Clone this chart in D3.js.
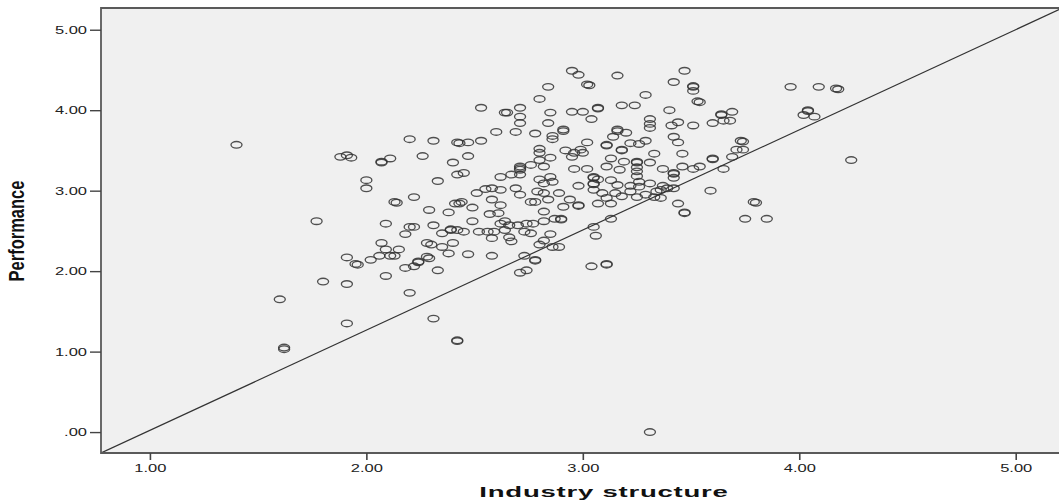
<!DOCTYPE html>
<html>
<head>
<meta charset="utf-8">
<script src="https://cdn.jsdelivr.net/npm/d3@7"></script>
<style>
  html, body { margin: 0; padding: 0; background: #ffffff; }
  svg { display: block; }
  text { font-family: "Liberation Sans", Arial, sans-serif; }
</style>
</head>
<body>
<svg id="chart" width="1059" height="502"></svg>
<script>
// ---- data ----
const xTickValues = [1, 2, 3, 4, 5];
const yTickValues = [0, 1, 2, 3, 4, 5];
const xTitle = "Industry structure";
const yTitle = "Performance";

const industry = [
  1.40,1.88,1.91,1.93,2.00,2.00,1.77,1.91,1.95,1.96,2.02,1.80,1.91,1.60,1.91,1.62,1.62,
  2.84,2.80,2.53,2.64,2.65,2.71,2.71,2.71,2.85,2.84,2.86,2.86,2.60,2.69,2.78,2.20,2.31,2.42,2.43,2.47,
  2.53,2.11,2.07,2.07,2.26,2.40,2.47,2.42,2.45,2.80,2.80,2.80,2.85,2.71,2.71,2.71,2.76,2.82,2.62,2.67,
  2.71,2.80,2.85,2.86,2.82,
  2.33,2.13,2.14,2.22,2.29,2.38,2.41,2.43,2.44,2.49,2.51,2.55,2.58,2.62,2.69,2.71,2.58,2.62,2.61,2.57,
  2.76,2.78,2.79,2.82,2.84,2.89,2.09,2.20,2.22,2.31,2.18,2.35,2.39,2.39,2.42,2.45,2.49,2.52,2.56,2.59,
  2.62,2.64,2.66,2.64,2.70,2.74,2.77,2.82,2.73,2.76,2.66,2.67,2.58,2.82,2.87,2.85,2.82,2.80,2.86,2.07,
  2.09,2.15,2.11,2.13,2.06,2.28,2.30,2.35,2.40,2.38,2.47,2.58,2.29,2.28,2.24,2.24,2.22,2.18,2.09,2.33,
  2.20,2.31,2.73,2.78,2.78,2.71,2.74,
  2.95,2.98,3.16,3.47,3.42,3.51,3.51,3.51,3.02,3.03,3.29,3.53,3.54,3.18,3.24,3.07,3.07,3.40,2.95,3.00,
  3.04,3.31,3.31,3.31,3.64,3.64,3.69,3.65,3.68,3.60,3.44,3.41,3.51,2.91,2.91,3.16,3.16,3.20,3.14,3.42,
  3.44,3.02,3.22,3.29,3.26,3.11,3.11,3.18,3.18,2.92,2.99,2.96,3.00,2.95,3.33,3.46,3.73,3.74,3.71,3.74,
  3.69,3.60,3.60,3.65,3.13,3.19,3.25,3.25,3.25,3.25,3.25,3.31,2.96,3.02,3.11,3.17,3.37,3.42,3.42,3.42,
  3.46,3.51,3.54,3.05,3.05,3.07,3.05,3.05,2.98,3.05,3.13,3.16,3.22,3.26,3.26,3.31,3.37,3.09,3.15,3.22,
  3.29,3.34,3.36,3.39,3.42,3.59,
  3.44,3.47,3.47,3.79,3.80,3.75,3.85,3.13,3.05,3.06,3.04,3.11,3.11,2.89,2.90,2.90,2.98,2.98,2.91,3.07,
  3.13,3.18,3.25,3.33,3.36,2.94,3.11,
  3.96,4.09,4.17,4.18,4.04,4.04,4.02,4.07,4.24,2.42,2.42,3.31
];

const performance = [
  3.57,3.42,3.44,3.41,3.13,3.03,2.62,2.17,2.09,2.08,2.14,1.87,1.84,1.65,1.35,1.05,1.03,
  4.29,4.14,4.03,3.97,3.97,4.03,3.92,3.84,3.97,3.84,3.68,3.64,3.73,3.73,3.71,3.64,3.62,3.60,3.59,3.60,
  3.62,3.40,3.36,3.35,3.43,3.35,3.43,3.20,3.22,3.52,3.47,3.38,3.41,3.30,3.28,3.26,3.32,3.30,3.17,3.20,
  3.20,3.14,3.17,3.11,3.09,
  3.12,2.86,2.85,2.92,2.76,2.73,2.84,2.84,2.86,2.79,2.97,3.02,3.03,3.01,3.03,2.95,2.89,2.82,2.72,2.71,
  2.86,2.86,2.99,2.97,2.89,2.97,2.59,2.55,2.55,2.57,2.46,2.47,2.52,2.51,2.51,2.49,2.62,2.49,2.49,2.49,
  2.59,2.62,2.57,2.51,2.57,2.59,2.59,2.62,2.49,2.47,2.42,2.37,2.41,2.74,2.65,2.46,2.38,2.33,2.30,2.35,
  2.27,2.27,2.19,2.19,2.19,2.35,2.33,2.30,2.35,2.22,2.21,2.19,2.16,2.18,2.12,2.11,2.06,2.04,1.94,2.01,
  1.73,1.41,2.19,2.14,2.13,1.98,2.01,
  4.49,4.44,4.43,4.49,4.35,4.30,4.29,4.24,4.32,4.31,4.19,4.11,4.10,4.06,4.06,4.03,4.02,4.00,3.98,3.98,
  3.89,3.89,3.83,3.78,3.95,3.94,3.98,3.87,3.87,3.84,3.85,3.81,3.81,3.76,3.74,3.76,3.74,3.72,3.67,3.67,
  3.60,3.60,3.59,3.62,3.58,3.57,3.56,3.51,3.50,3.50,3.51,3.47,3.47,3.42,3.46,3.46,3.62,3.61,3.51,3.51,
  3.42,3.40,3.39,3.27,3.40,3.36,3.36,3.35,3.29,3.24,3.18,3.35,3.27,3.27,3.30,3.26,3.27,3.22,3.21,3.16,
  3.30,3.27,3.30,3.17,3.16,3.14,3.09,3.08,3.06,3.01,3.13,3.07,3.06,3.11,3.05,3.09,3.06,2.97,2.97,2.99,
  2.95,2.99,3.01,3.03,3.03,3.00,
  2.84,2.73,2.72,2.86,2.85,2.65,2.65,2.65,2.55,2.44,2.06,2.09,2.08,2.30,2.65,2.64,2.82,2.81,2.80,2.84,
  2.84,2.93,2.92,2.92,2.91,2.89,2.91,
  4.29,4.29,4.27,4.26,4.00,3.99,3.94,3.92,3.38,1.14,1.13,0.00
];

// reference line end points (data units)
const lineX = [0.774, 5.2];
const lineY = [-0.26, 5.25];

// ---- layout ----
const svg = d3.select("#chart");
const mLeft = 101, mRight = 1059, mTop = 8, mBottom = 453;
const sx = 1.5; // horizontal stretch of the text (as in the reference)

const x = d3.scaleLinear().domain([0.774, 5.2]).range([mLeft, mRight]);
const y = d3.scaleLinear().domain([-0.26, 5.27]).range([mBottom, mTop]);

svg.append("defs").append("clipPath").attr("id", "clip")
  .append("rect").attr("x", mLeft).attr("y", mTop).attr("width", mRight - mLeft).attr("height", mBottom - mTop);

svg.append("rect")
  .attr("x", mLeft).attr("y", mTop).attr("width", mRight - mLeft + 5).attr("height", mBottom - mTop)
  .attr("fill", "#f0f0f0");

const plot = svg.append("g").attr("clip-path", "url(#clip)");

plot.append("line")
  .attr("x1", x(lineX[0])).attr("y1", y(lineY[0]))
  .attr("x2", x(lineX[1])).attr("y2", y(lineY[1]))
  .attr("stroke", "#333").attr("stroke-width", 1.2);

const pts = d3.range(Math.min(industry.length, performance.length));
plot.selectAll("ellipse.pt").data(pts).join("ellipse")
  .attr("class", "pt")
  .attr("cx", i => x(industry[i]))
  .attr("cy", i => y(performance[i]))
  .attr("rx", 5.5).attr("ry", 3.3)
  .attr("fill", "none")
  .attr("stroke", "#333")
  .attr("stroke-opacity", 0.85)
  .attr("stroke-width", 1.35);

// frame
svg.append("path")
  .attr("d", `M${mRight + 2},${mTop} H${mLeft} V${mBottom} H${mRight + 2}`)
  .attr("fill", "none").attr("stroke", "#5a5a5a").attr("stroke-width", 1.8);

// axes
const yAxis = svg.append("g").attr("transform", `translate(${mLeft},0)`)
  .call(d3.axisLeft(y).tickValues(yTickValues).tickSize(11).tickPadding(3)
    .tickFormat(d => d === 0 ? ".00" : d3.format(".2f")(d)));
yAxis.select(".domain").remove();
yAxis.selectAll(".tick line").attr("stroke", "#444").attr("stroke-width", 1.4);
yAxis.selectAll(".tick text")
  .attr("x", -14 / sx).attr("transform", `scale(${sx},1)`)
  .attr("font-size", 11).attr("fill", "#222")
  .style("font-family", '"Liberation Sans", Arial, sans-serif');

const xAxis = svg.append("g").attr("transform", `translate(0,${mBottom})`)
  .call(d3.axisBottom(x).tickValues(xTickValues).tickSize(7).tickPadding(4)
    .tickFormat(d3.format(".2f")));
xAxis.select(".domain").remove();
xAxis.selectAll(".tick line").attr("stroke", "#444").attr("stroke-width", 1.6);
xAxis.selectAll(".tick text")
  .attr("transform", `scale(${sx},1)`)
  .attr("font-size", 11).attr("fill", "#222")
  .style("font-family", '"Liberation Sans", Arial, sans-serif');

// titles
svg.append("text")
  .attr("transform", `translate(604,497) scale(1.9,1)`)
  .attr("text-anchor", "middle")
  .attr("font-size", 14.5).attr("font-weight", "bold").attr("fill", "#111")
  .attr("letter-spacing", 0.4)
  .text(xTitle);

svg.append("text")
  .attr("transform", `translate(24,231) scale(1.3,1) rotate(-90)`)
  .attr("text-anchor", "middle")
  .attr("font-size", 16.5).attr("font-weight", "bold").attr("fill", "#111")
  .text(yTitle);
</script>
</body>
</html>
